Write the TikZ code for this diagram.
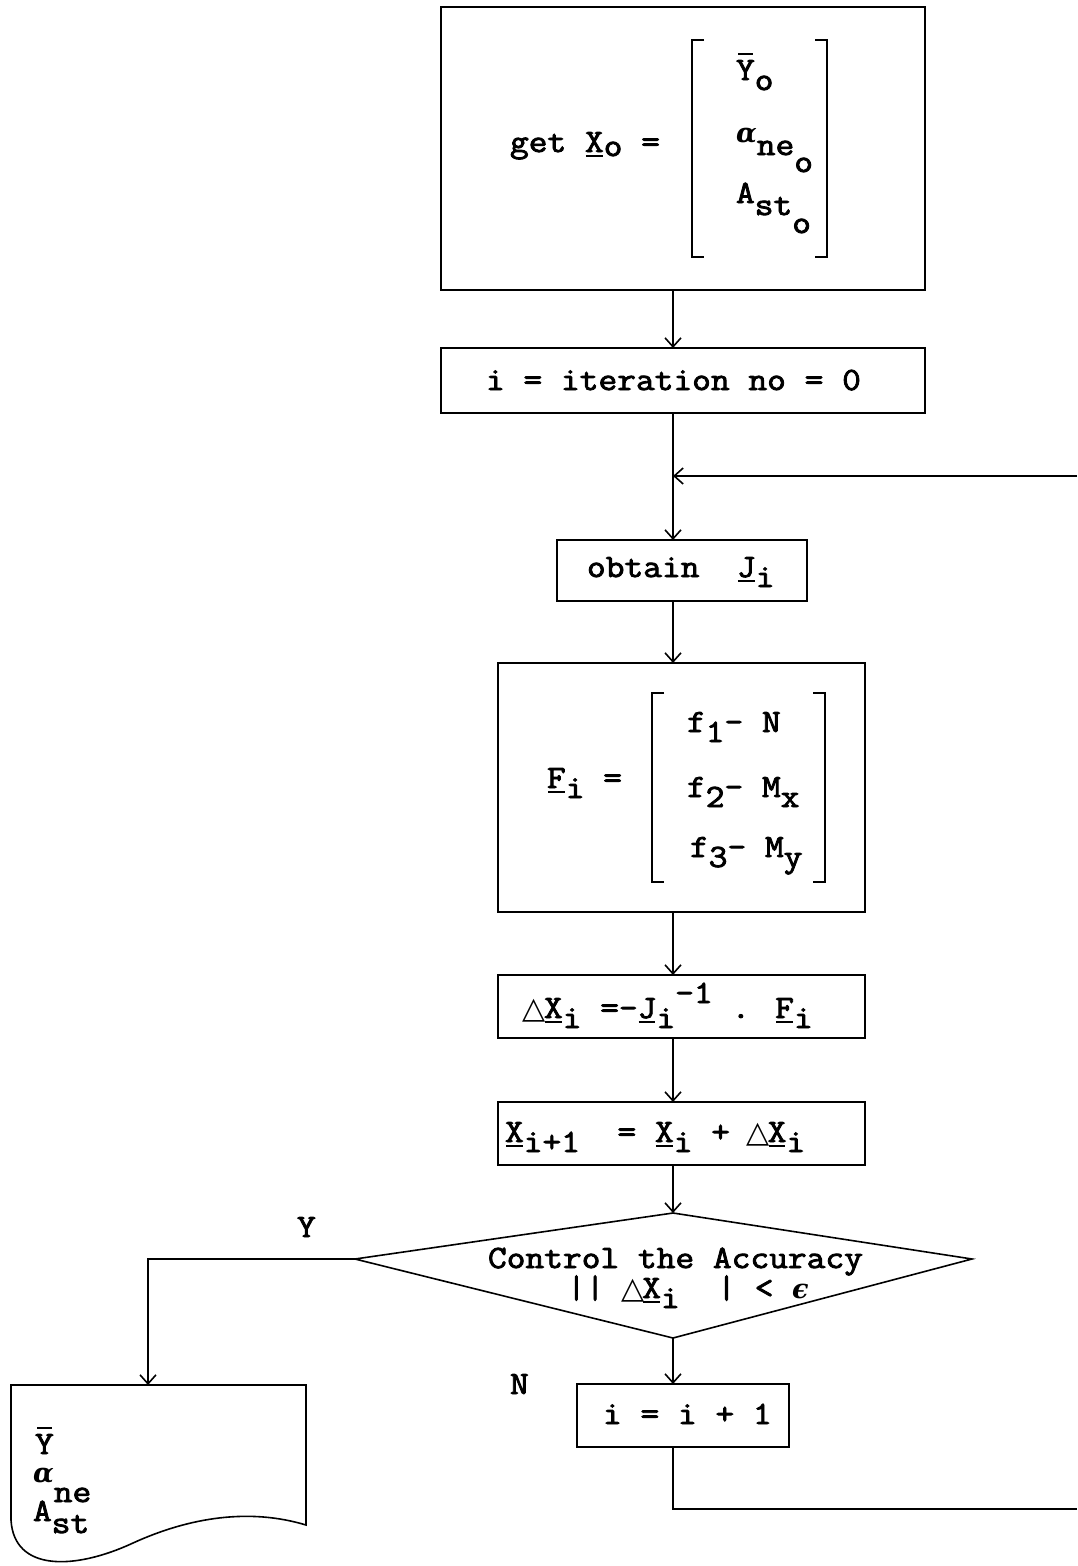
\documentclass[tikz,border=0pt]{standalone}
\usepackage{fontspec}
\newfontfamily\tw[FakeStretch=1.12,FakeBold=2.6]{Latin Modern Mono}
\newfontfamily\gk{DejaVu Serif}
\newfontfamily\gks{DejaVu Sans}
\usetikzlibrary{arrows.meta}
\newcommand\mylo[1]{\raisebox{-10pt}{#1}}
\newcommand\myhi[1]{\raisebox{15pt}{#1}}
\newsavebox\mybx
\newcommand\vu[1]{\sbox\mybx{#1}\rlap{\kern1pt\rule[-5pt]{\dimexpr\wd\mybx-2pt\relax}{1.8pt}}\usebox\mybx}
\newcommand\ybar{\sbox\mybx{Y}\rlap{\kern2pt\rule[25pt]{\dimexpr\wd\mybx-4pt\relax}{2pt}}\usebox\mybx}
\newcommand\alp{{\gk\bfseries\itshape\fontsize{27}{30}\selectfont α}}
\newcommand\eps{{\gk\bfseries\itshape\fontsize{27}{30}\selectfont ϵ}}
\newcommand\tri{\makebox[19pt]{\gks\fontsize{30}{30}\selectfont △}}
\begin{document}
\begin{tikzpicture}[x=1pt,y=-1pt,
  box/.style={draw, line width=1.6pt, inner sep=0pt, outer sep=0pt},
  txt/.style={inner sep=0pt, outer sep=0pt, anchor=base west, font=\tw\fontsize{32.5}{38}\selectfont},
  ln/.style={line width=1.6pt},
  arr/.style={line width=1.6pt, -{Straight Barb[length=9pt,width=16pt]}}]
\useasboundingbox (0,0) rectangle (1077,1566);
\coordinate (sp) at (673,0);
% boxes
\node[box, minimum width=484pt, minimum height=283pt] (b1) at (683,148.5) {};
\node[box, minimum width=484pt, minimum height=65pt] (b2) at (683,380.5) {};
\node[box, minimum width=250pt, minimum height=61pt] (b3) at (682,570.5) {};
\node[box, minimum width=367pt, minimum height=249pt] (b4) at (681.5,787.5) {};
\node[box, minimum width=367pt, minimum height=63pt] (b5) at (681.5,1006.5) {};
\node[box, minimum width=367pt, minimum height=63pt] (b6) at (681.5,1133.5) {};
\node[box, minimum width=212pt, minimum height=63pt] (b7) at (683,1415.5) {};
% diamond
\coordinate (dt) at (673,1213);
\coordinate (dl) at (355,1259);
\coordinate (dr) at (972,1259);
\coordinate (db) at (673,1338);
\draw[ln, line join=miter] (dt) -- (dr) -- (db) -- (dl) -- cycle;
% document shape
\coordinate (doctop) at (148,1385);
\draw[ln] (11,1520) -- (11,1385) -- (306,1385) -- (306,1525)
  .. controls (250,1508) and (190,1517) .. (133,1543)
  .. controls (75,1570) and (14,1572) .. (11,1520);
% text box 1
\node[txt] (t1) at (510,152) {get \vu{X}\raisebox{-4pt}{o} =};
\node[txt] (m11) at (736,80) {\ybar\mylo{o}};
\node[txt] (m12) at (736,142) {\alp\raisebox{-13pt}{ne\raisebox{-17pt}{o}}};
\node[txt] (m13) at (736,203) {A\raisebox{-12pt}{st\raisebox{-18pt}{o}}};
\draw[ln] (704,40) -- (692,40) -- (692,257) -- (704,257);
\draw[ln] (815,40) -- (827,40) -- (827,257) -- (815,257);
% others
\node[txt] (t2) at (486,390) {i = iteration no = 0};
\node[txt] (t3) at (587,577) {obtain~~\vu{J}\mylo{i}};
\node[txt] (t4) at (547,788) {\vu{F}\mylo{i} =};
\node[txt] (m21) at (687,732) {f\mylo{1}- N};
\node[txt] (m22) at (687,797) {f\mylo{2}- M\mylo{x}};
\node[txt] (m23) at (690,857) {f\mylo{3}- M\mylo{y}};
\draw[ln] (664,693) -- (652,693) -- (652,882) -- (664,882);
\draw[ln] (813,693) -- (825,693) -- (825,882) -- (813,882);
\node[txt] (t5) at (525,1018) {\tri\vu{X}\mylo{i} =-\vu{J}\mylo{i}\myhi{-1} . \vu{F}\mylo{i}};
\node[txt] (t6) at (505,1142) {\vu{X}\mylo{i+1}~~= \vu{X}\mylo{i} + \tri\vu{X}\mylo{i}};
\node[txt] (t7a) at (488,1268) {Control the Accuracy};
\node[txt] (t7b) at (567,1298) {|| \tri\vu{X}\mylo{i}~~| < \eps};
\node[txt] (t8) at (603,1424) {i = i + 1};
\node[txt] (ly) at (297,1237) {Y};
\node[txt] (ln) at (510,1394) {N};
\node[txt] (d1) at (35,1454) {\ybar};
\node[txt] (d2) at (33,1482) {\alp\raisebox{-20pt}{ne}};
\node[txt] (d3) at (33,1521) {A\raisebox{-12pt}{st}};
% connectors
\draw[arr] (b1.south -| sp) -- (b2.north -| sp);
\draw[arr] (b2.south -| sp) -- (b3.north -| sp);
\coordinate (jn) at (673,476);
\coordinate (re2) at (1077,476);
\coordinate (lb) at (673,1509);
\coordinate (re1) at (1077,1509);
\draw[arr] (re2) -- (jn);
\draw[arr] (b3.south -| sp) -- (b4.north -| sp);
\draw[arr] (b4.south -| sp) -- (b5.north -| sp);
\draw[arr] (b5.south -| sp) -- (b6.north -| sp);
\draw[arr] (b6.south -| sp) -- (dt);
\draw[arr] (db) -- (b7.north -| sp);
\draw[arr] (dl) -- (dl -| doctop) -- (doctop);
\draw[ln] (b7.south -| sp) -- (lb) -- (re1);
\end{tikzpicture}
\end{document}
